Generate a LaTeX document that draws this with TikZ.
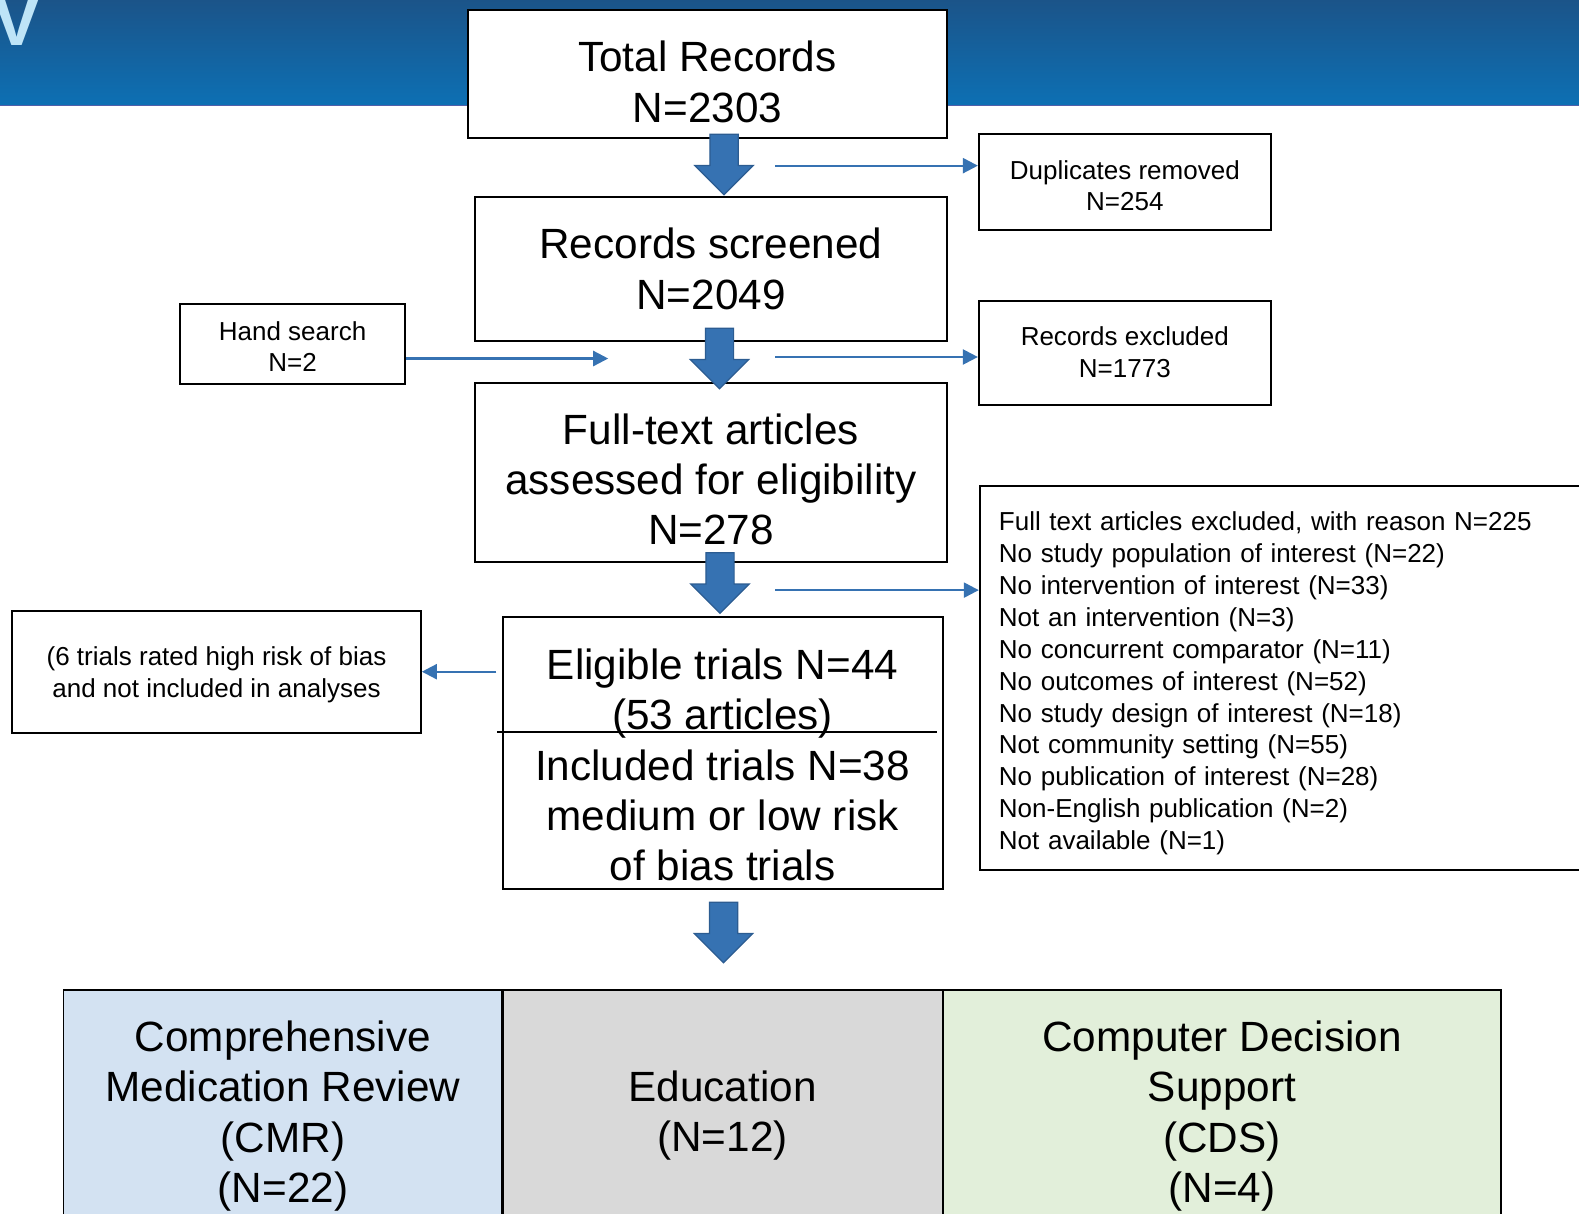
\documentclass[tikz,border=0pt]{standalone}
\usepackage{fontspec}
\setmainfont{Liberation Sans}
\usetikzlibrary{arrows.meta, positioning}

\definecolor{bandtop}{RGB}{27,84,137}
\definecolor{bandmid}{RGB}{11,114,184}
\definecolor{bandlow}{RGB}{13,112,180}
\definecolor{bandedge}{RGB}{80,95,170}
\definecolor{vletter}{RGB}{190,228,247}
\definecolor{arrowblue}{RGB}{54,114,178}
\definecolor{arrowedge}{RGB}{44,92,145}
\definecolor{cmrblue}{RGB}{211,226,242}
\definecolor{edugray}{RGB}{217,217,217}
\definecolor{cdsgreen}{RGB}{226,239,218}

\begin{document}
\begin{tikzpicture}[x=0.02cm, y=-0.02cm,
    box/.style={draw, line width=1.1pt, fill=white, align=center, inner ysep=0pt, inner xsep=4pt},
    bigbox/.style={box, font=\fontsize{23.9pt}{28.4pt}\selectfont},
    smallbox/.style={box, font=\fontsize{14.7pt}{18pt}\selectfont},
    flow/.style={draw=arrowblue, line width=1.3pt, -{Triangle[length=8.5pt, width=8.5pt]}},
    downarrow/.pic={\draw[draw=arrowedge, fill=arrowblue, line width=0.7pt]
        (-14,0) -- (-14,31) -- (-29,31) -- (0,60) -- (29,31) -- (14,31) -- (14,0) -- cycle;}
]
\useasboundingbox (0,0) rectangle (1568,1205);

% Title band
\shade[top color=bandtop, middle color=bandmid, bottom color=bandlow] (0,0) rectangle (1568,105);
\draw[bandedge, line width=0.8pt] (0,105) -- (1568,105);
\node[anchor=base west, inner sep=0pt, text=vletter, font=\bfseries\fontsize{39.7pt}{40pt}\selectfont] (vtitle) at (-7,44.7) {V};

% Main column
\node[bigbox, anchor=north, minimum width=9.5cm, text height=2.224cm, text depth=0.31cm] (total) at (702.5,9) {Total Records\\N=2303};
\node[bigbox, anchor=north, minimum width=9.36cm, text height=2.22cm, text depth=0.64cm] (screened) at (706,195) {Records screened\\N=2049};
\node[bigbox, anchor=north, minimum width=9.36cm, text height=3.22cm, text depth=0.34cm] (fulltext) at (706,379) {Full-text articles\\assessed for eligibility\\N=278};
\node[bigbox, anchor=north, minimum width=8.74cm, text height=5.23cm, text depth=0.17cm] (eligible) at (717.5,612) {Eligible trials N=44\\(53 articles)\\Included trials N=38\\medium or low risk\\of bias trials};
\draw[line width=0.8pt] (494,727) -- (930,727);

% Side boxes
\node[smallbox, anchor=north, minimum width=5.8cm, text height=1.522cm, text depth=0.378cm] (dup) at (1117,132.4) {Duplicates removed\\N=254};
\node[smallbox, anchor=north, minimum width=5.8cm, text height=1.52cm, text depth=0.544cm] (excl) at (1117,298) {Records excluded\\N=1773};
\node[smallbox, anchor=north, minimum width=4.46cm, text height=1.344cm, text depth=0.244cm] (hand) at (290.5,301.2) {Hand search\\N=2};
\node[smallbox, anchor=north, minimum width=8.12cm, text height=1.722cm, text depth=0.694cm] (high) at (215,605.7) {(6 trials rated high risk of bias\\and not included in analyses};
\node[smallbox, anchor=north west, text width=12cm, align=left, inner xsep=0.38cm, text height=0.886cm, text depth=6.734cm] (reasons) at (972,482)
  {Full text articles excluded, with reason N=225\\
   No study population of interest (N=22)\\
   No intervention of interest (N=33)\\
   Not an intervention (N=3)\\
   No concurrent comparator (N=11)\\
   No outcomes of interest (N=52)\\
   No study design of interest (N=18)\\
   Not community setting (N=55)\\
   No publication of interest (N=28)\\
   Non-English publication (N=2)\\
   Not available (N=1)};

% Intervention groups
\node[bigbox, fill=cmrblue, anchor=north, minimum width=8.72cm, text height=4.22cm, text depth=0.94cm] (cmr) at (281,982) {Comprehensive\\Medication Review\\(CMR)\\(N=22)};
\node[bigbox, fill=edugray, anchor=north, minimum width=8.74cm, text height=3.22cm, text depth=1.94cm] (edu) at (717.5,982) {Education\\(N=12)};
\node[bigbox, fill=cdsgreen, anchor=north, minimum width=11.1cm, text height=4.22cm, text depth=0.94cm] (cds) at (1213.5,982) {Computer Decision\\Support\\(CDS)\\(N=4)};

% Thin arrows
\coordinate (dupfrom) at (770,164.5);
\draw[flow] (dupfrom) -- (dupfrom -| dup.west);
\coordinate (handto) at (604,356);
\draw[flow] (handto -| hand.east) -- (handto);
\coordinate (exclfrom) at (770,354.5);
\draw[flow] (exclfrom) -- (exclfrom -| excl.west);
\coordinate (reasonsfrom) at (770,586);
\draw[flow] (reasonsfrom) -- (reasonsfrom -| reasons.west);
\coordinate (highfrom) at (493,667);
\draw[flow] (highfrom) -- (highfrom -| high.east);

% Block arrows
\foreach \ax/\ay in {719/133.4, 714.5/326, 715/549, 718.5/896}
{
    \pic at (\ax,\ay) {downarrow};
}

\end{tikzpicture}
\end{document}
